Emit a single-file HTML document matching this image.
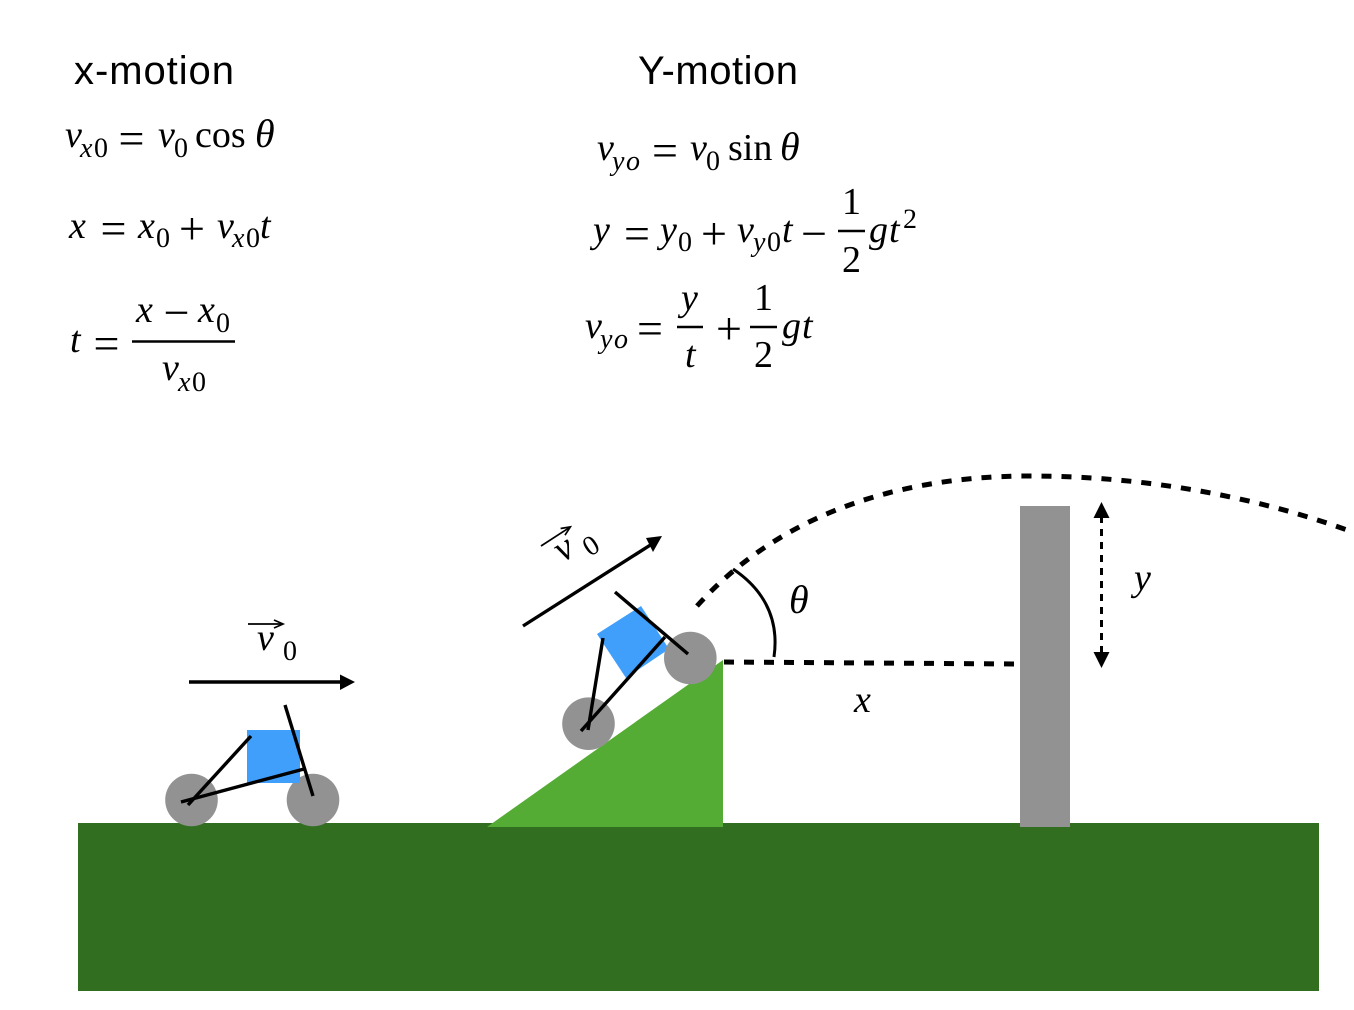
<!DOCTYPE html>
<html><head><meta charset="utf-8"><style>
html,body{margin:0;padding:0;background:#fff;width:1354px;height:1010px;overflow:hidden}
svg{display:block}
text{font-family:"Liberation Serif",serif;font-size:38px;fill:#000;text-rendering:geometricPrecision}
.i{font-style:italic}
.s{font-size:28px}
.si{font-size:28px;font-style:italic}
.o{font-size:46px}
.h{font-family:"Liberation Sans",sans-serif;font-size:40px}
</style></head><body>
<svg width="1354" height="1010" viewBox="0 0 1354 1010" xmlns="http://www.w3.org/2000/svg">
<rect width="1354" height="1010" fill="#fff"/>
<rect x="78" y="823" width="1241" height="168" fill="#316e1f"/>
<polygon points="487,827 723,827 723,660" fill="#54ac34"/>
<rect x="1020" y="506" width="50" height="321" fill="#929292"/>

<!-- car 1 -->
<circle cx="191.5" cy="800" r="26.3" fill="#929292"/>
<circle cx="313" cy="800" r="26.3" fill="#929292"/>
<rect x="247" y="730" width="53" height="53" fill="#409ffb"/>
<g stroke="#000" stroke-width="3.4" fill="none">
<line x1="285" y1="705" x2="313" y2="796"/>
<line x1="251" y1="736" x2="188" y2="805"/>
<line x1="181" y1="802" x2="304" y2="769"/>
<line x1="189" y1="682" x2="343" y2="682"/>
</g>
<polygon points="355,682 340,674.5 340,690" fill="#000"/>

<!-- car 2 -->
<polygon points="597,634 641,606 669,649 626,678" fill="#409ffb"/>
<circle cx="588.5" cy="723.7" r="26.3" fill="#929292"/>
<circle cx="690.3" cy="658" r="26.3" fill="#929292"/>
<g stroke="#000" stroke-width="3.4" fill="none">
<line x1="615" y1="592" x2="688" y2="654"/>
<line x1="603" y1="638" x2="588" y2="730"/>
<line x1="665" y1="637" x2="581" y2="731"/>
<line x1="523" y1="626" x2="652" y2="544"/>
</g>
<polygon points="662,536 646,538 653,552" fill="#000"/>

<!-- dashed -->
<g stroke="#000" stroke-width="5" fill="none" stroke-dasharray="10 10">
<line x1="724" y1="662" x2="1017" y2="664"/>
<path d="M697,606 C770,525 880,476 1030,476 C1140,476 1250,495 1347,530"/>
</g>
<path d="M733,569 C760,587 780,615 774,657" stroke="#000" stroke-width="3" fill="none"/>
<line x1="1101.5" y1="516" x2="1101.5" y2="654" stroke="#000" stroke-width="3" stroke-dasharray="7 6"/>
<polygon points="1101.5,502 1093.5,518 1109.5,518" fill="#000"/>
<polygon points="1101.5,668 1093.5,652 1109.5,652" fill="#000"/>

<!-- headings -->
<text class="h" x="74" y="84" textLength="160">x-motion</text>
<text class="h" x="638" y="84" textLength="160">Y-motion</text>

<!-- x eqs -->
<text class="i" x="65" y="147">v</text><text class="si" x="80" y="157">x</text><text class="s" x="94" y="157">0</text>
<text class="o" x="118.5" y="154">=</text>
<text class="i" x="158" y="147">v</text><text class="s" x="174" y="157">0</text>
<text x="195" y="147">cos</text><text class="i" style="font-size:40px" x="255" y="147">θ</text>

<text class="i" x="69" y="238">x</text>
<text class="o" x="100.5" y="244">=</text>
<text class="i" x="138" y="238">x</text><text class="s" x="156" y="247">0</text>
<text class="o" x="179" y="244">+</text>
<text class="i" x="217" y="238">v</text><text class="si" x="232" y="247">x</text><text class="s" x="246" y="247">0</text>
<text class="i" x="260" y="238">t</text>

<text class="i" x="70" y="352">t</text>
<text class="o" x="93.5" y="359">=</text>
<line x1="132" y1="341.5" x2="235" y2="341.5" stroke="#000" stroke-width="2.5"/>
<text class="i" x="136" y="322">x</text>
<text class="o" x="163.5" y="328">−</text>
<text class="i" x="198" y="322">x</text><text class="s" x="216" y="332">0</text>
<text class="i" x="162" y="380">v</text><text class="si" x="178" y="391">x</text><text class="s" x="192" y="391">0</text>

<!-- y eqs -->
<text class="i" x="597" y="160">v</text><text class="si" x="612" y="170">y</text><text class="si" x="626" y="170">o</text>
<text class="o" x="652" y="166">=</text>
<text class="i" x="690" y="160">v</text><text class="s" x="706" y="170">0</text>
<text x="728" y="160">sin</text><text class="i" style="font-size:40px" x="780" y="160">θ</text>

<text class="i" x="593" y="242">y</text>
<text class="o" x="624" y="249">=</text>
<text class="i" x="660" y="242">y</text><text class="s" x="678" y="251">0</text>
<text class="o" x="701" y="249">+</text>
<text class="i" x="737" y="242">v</text><text class="si" x="753" y="251">y</text><text class="s" x="767" y="251">0</text>
<text class="i" x="782" y="242">t</text>
<text class="o" x="801" y="249">−</text>
<line x1="838" y1="231" x2="865" y2="231" stroke="#000" stroke-width="2.5"/>
<text x="842" y="214">1</text>
<text x="842" y="272">2</text>
<text class="i" x="869" y="242">g</text><text class="i" x="889" y="242">t</text><text class="s" x="903" y="228">2</text>

<text class="i" x="585" y="338">v</text><text class="si" x="600" y="348">y</text><text class="si" x="614" y="348">o</text>
<text class="o" x="637" y="344">=</text>
<line x1="677" y1="327" x2="703" y2="327" stroke="#000" stroke-width="2.5"/>
<text class="i" x="681" y="310">y</text>
<text class="i" x="685" y="367">t</text>
<text class="o" x="716" y="344">+</text>
<line x1="750" y1="327" x2="777" y2="327" stroke="#000" stroke-width="2.5"/>
<text x="754" y="310">1</text>
<text x="754" y="367">2</text>
<text class="i" x="782" y="338">g</text><text class="i" x="802" y="338">t</text>

<!-- labels -->
<text class="i" x="854" y="712">x</text>
<text class="i" x="1134" y="590">y</text>
<text class="i" style="font-size:40px" x="789" y="613">θ</text>

<g>
<text class="i" x="257" y="650">v</text><text class="s" x="283" y="660">0</text>
<line x1="248" y1="624" x2="281" y2="624" stroke="#000" stroke-width="1.7"/>
<polyline points="274,620 283,624 274,628" fill="none" stroke="#000" stroke-width="1.7"/>
</g>
<g transform="translate(541,546) rotate(-33)">
<text class="i" x="9" y="26">v</text><text class="s" x="35" y="36">0</text>
<line x1="0" y1="0" x2="33" y2="0" stroke="#000" stroke-width="1.7"/>
<polyline points="26,-4 35,0 26,4" fill="none" stroke="#000" stroke-width="1.7"/>
</g>
</svg>
</body></html>
